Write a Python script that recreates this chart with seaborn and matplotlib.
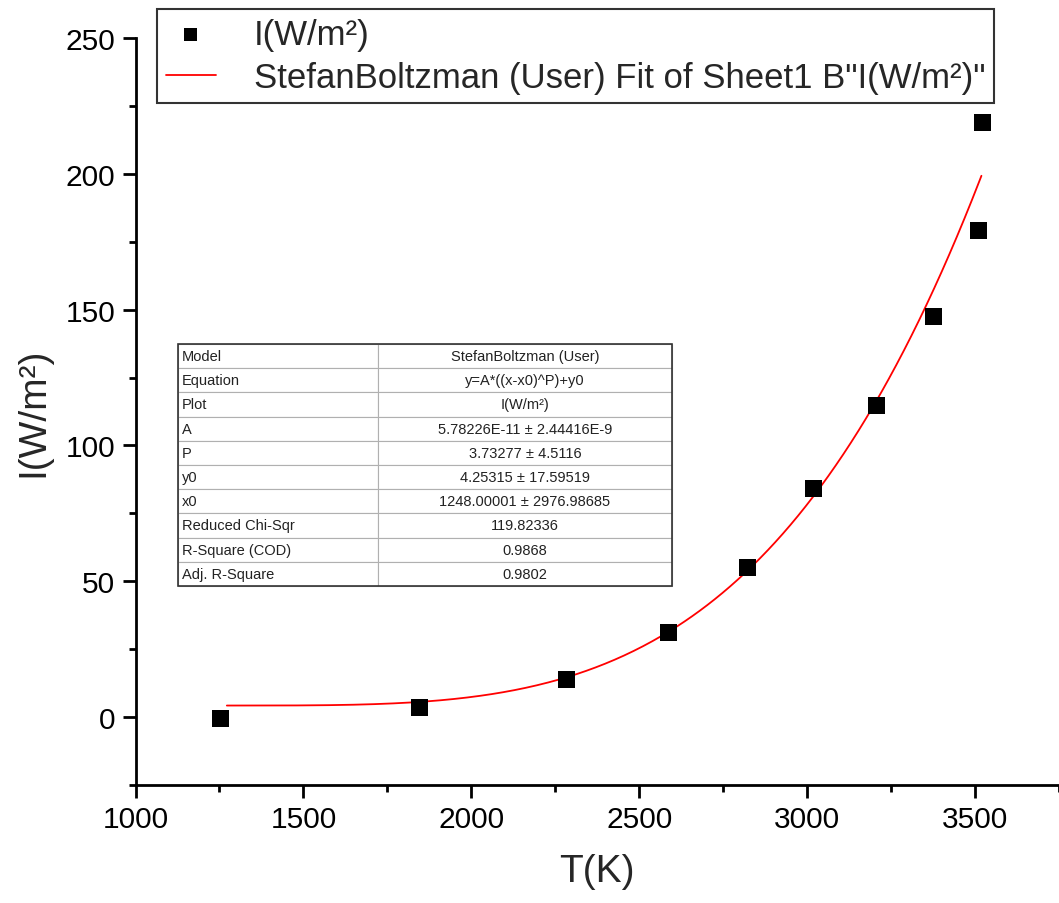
import numpy as np
import pandas as pd
import matplotlib
matplotlib.use("Agg")
import matplotlib.pyplot as plt
import seaborn as sns
from matplotlib.patches import Rectangle

# ---- data ----
T_K = [1254, 1846, 2284, 2586, 2823, 3018, 3208, 3377, 3510, 3522]
I_W = [-0.4, 3.7, 14.0, 31.2, 55.1, 84.2, 114.7, 147.4, 179.0, 218.8]

# fit parameters as printed in the chart's table
fit_A = 5.78226e-11
fit_P = 3.73277
fit_y0 = 4.25315
fit_x0 = 1248.00001
fit_range = [1272, 3519]

table_rows = [
    ["Model", "StefanBoltzman (User)"],
    ["Equation", "y=A*((x-x0)^P)+y0"],
    ["Plot", "I(W/m²)"],
    ["A", "5.78226E-11 ± 2.44416E-9"],
    ["P", "3.73277 ± 4.5116"],
    ["y0", "4.25315 ± 17.59519"],
    ["x0", "1248.00001 ± 2976.98685"],
    ["Reduced Chi-Sqr", "119.82336"],
    ["R-Square (COD)", "0.9868"],
    ["Adj. R-Square", "0.9802"],
]

x_ticks = [1000, 1500, 2000, 2500, 3000, 3500]
y_ticks = [0, 50, 100, 150, 200, 250]

sns.set_theme(style="white")
plt.rcParams['font.family'] = ['Liberation Sans', 'DejaVu Sans']

W, H = 1059, 904
AX_L, AX_B, AX_T = 135.5, 786, 39
fig = plt.figure(figsize=(W / 100, H / 100), dpi=100)
ax = fig.add_axes([AX_L / W, 1 - AX_B / H, (W - AX_L) / W, (AX_B - AX_T) / H])

df = pd.DataFrame({"T": T_K, "I": I_W})
xf = np.linspace(fit_range[0], fit_range[1], 400)
yf = fit_A * (xf - fit_x0) ** fit_P + fit_y0
dff = pd.DataFrame({"T": xf, "I": yf})

sns.lineplot(data=dff, x="T", y="I", ax=ax, color="#ff0000", lw=1.3,
             label='StefanBoltzman (User) Fit of Sheet1 B"I(W/m²)"', zorder=2)
sns.scatterplot(data=df, x="T", y="I", ax=ax, marker="s", s=150, color="black",
                edgecolor="none", label="I(W/m²)", zorder=3)

px_per_unit = (980.7 - 136) / 2500
ax.set_xlim(1000, 1000 + (W - AX_L) / px_per_unit)
ax.set_ylim(-25, 250)
ax.set_xticks(x_ticks)
ax.set_yticks(y_ticks)
ax.set_xticks(np.arange(1250, 3751, 500), minor=True)
ax.set_yticks(np.arange(-25, 251, 50), minor=True)
ax.tick_params(axis="both", which="major", direction="out", length=9.5, width=2,
               labelsize=21.5, color="black", labelcolor="black", pad=5,
               bottom=True, left=True)
ax.tick_params(axis="both", which="minor", direction="out", length=5, width=2,
               color="black", bottom=True, left=True)
for s in ["top", "right"]:
    ax.spines[s].set_visible(False)
for s in ["left", "bottom"]:
    ax.spines[s].set_color("black")
    ax.spines[s].set_linewidth(2)

ax.set_xlabel("T(K)", fontsize=28, labelpad=14)
ax.set_ylabel("I(W/m²)", fontsize=28, labelpad=10)

# legend (points first)
handles, labels = ax.get_legend_handles_labels()
leg = ax.legend([handles[1], handles[0]], [labels[1], labels[0]],
                loc="upper left", bbox_to_anchor=(157 / W, 1 - 10 / H),
                bbox_transform=fig.transFigure, fontsize=25, frameon=True,
                fancybox=False, shadow=False, borderaxespad=0, borderpad=0.25,
                handlelength=1.45, handletextpad=1.1, labelspacing=0.3,
                markerscale=0.75)
leg.get_frame().set_edgecolor("#333333")
leg.get_frame().set_linewidth(1.5)
leg.get_frame().set_facecolor("white")
leg.get_frame().set_alpha(1)

# parameter table
axw, axh = W - AX_L, AX_B - AX_T
tx0, tx1 = (178 - AX_L) / axw, (672 - AX_L) / axw
ty0, ty1 = (AX_B - 587) / axh, (AX_B - 345) / axh
tbl = ax.table(cellText=table_rows, cellLoc="center",
               bbox=[tx0, ty0, tx1 - tx0, ty1 - ty0],
               colWidths=[200, 294], zorder=5)
tbl.auto_set_font_size(False)
tbl.set_fontsize(10.5)
for (r, c), cell in tbl.get_celld().items():
    cell.set_edgecolor("#b0b0b0")
    cell.set_linewidth(0.8)
    cell.set_facecolor("white")
    cell.get_text().set_color("#222222")
    if c == 0:
        cell.get_text().set_ha("left")
        cell._loc = "left"
        cell.PAD = 0.02
ax.add_patch(Rectangle((tx0, ty0), tx1 - tx0, ty1 - ty0, transform=ax.transAxes,
                       fill=False, edgecolor="#333333", lw=1.2, zorder=6,
                       clip_on=False))

fig.savefig("out.png", dpi=100)
